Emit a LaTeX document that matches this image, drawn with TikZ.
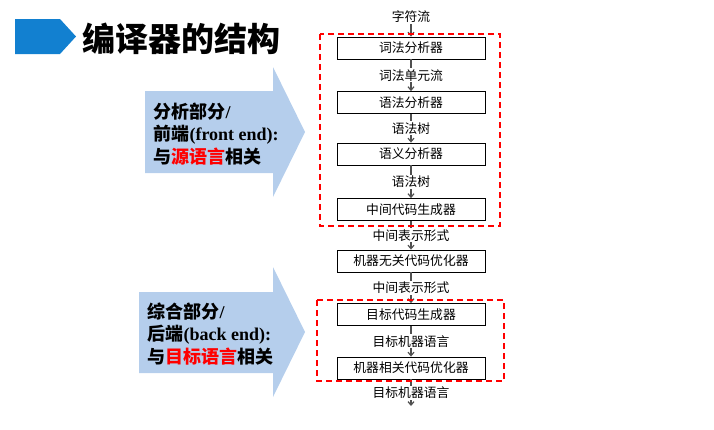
\documentclass[tikz,border=0pt]{standalone}
\usepackage{fontspec}
\setmainfont{Liberation Serif}
\newfontfamily\cjk{Noto Sans CJK SC}
\usetikzlibrary{arrows.meta}

\definecolor{titleblue}{RGB}{18,128,208}
\definecolor{arrowblue}{RGB}{181,206,236}
\definecolor{flowgray}{RGB}{80,80,80}

\tikzset{
stage/.style={draw=black, thick, fill=white, minimum width=148pt, minimum height=22pt,
  inner sep=0pt, font=\cjk\fontsize{12.8}{14}\selectfont},
flowlabel/.style={fill=white, inner sep=1pt, font=\cjk\fontsize{12.8}{14}\selectfont},
flow/.style={draw=flowgray, line width=1.2pt, -{Straight Barb[length=3.5pt,width=6pt]}},
partbox/.style={draw=red, line width=2pt, dash pattern=on 6pt off 4pt},
parttext/.style={align=left, anchor=west, font=\bfseries\fontsize{18}{22.5}\selectfont}
}

\begin{document}
\begin{tikzpicture}[x=1pt,y=-1pt]

\useasboundingbox (0,0) rectangle (714,429);

%%%%%%%%%%%%%%%%%%%%%%%%%%%%%%%%%%%%%%%%%%%%%%%%%%%%%%%%%%
% TITLE
%%%%%%%%%%%%%%%%%%%%%%%%%%%%%%%%%%%%%%%%%%%%%%%%%%%%%%%%%%

\fill[titleblue] (15,19) -- (60,19) -- (76,36.5) -- (60,54) -- (15,54) -- cycle;

\node[
anchor=west,
inner sep=0pt,
font=\cjk\bfseries\fontsize{33}{36}\selectfont
](title)
at (82,39)
{编译器的结构};

%%%%%%%%%%%%%%%%%%%%%%%%%%%%%%%%%%%%%%%%%%%%%%%%%%%%%%%%%%
% FRONT / BACK ARROWS
%%%%%%%%%%%%%%%%%%%%%%%%%%%%%%%%%%%%%%%%%%%%%%%%%%%%%%%%%%

\fill[arrowblue] (145,91) -- (273,91) -- (273,67) -- (305,132)
  -- (273,197) -- (273,173) -- (145,173) -- cycle;

\fill[arrowblue] (139,292) -- (273,292) -- (273,267) -- (305,332)
  -- (273,397) -- (273,373) -- (139,373) -- cycle;

\node[parttext](front) at (150,134)
{{\cjk 分析部分}/\\
{\cjk 前端}(front end):\\
{\cjk 与\textcolor{red}{源语言}相关}};

\node[parttext](back) at (144,334)
{{\cjk 综合部分}/\\
{\cjk 后端}(back end):\\
{\cjk 与\textcolor{red}{目标语言}相关}};

%%%%%%%%%%%%%%%%%%%%%%%%%%%%%%%%%%%%%%%%%%%%%%%%%%%%%%%%%%
% PHASES
%%%%%%%%%%%%%%%%%%%%%%%%%%%%%%%%%%%%%%%%%%%%%%%%%%%%%%%%%%

\node[flowlabel](input) at (411,17) {字符流};

\node[stage](lexer) at (411,48) {词法分析器};
\node[stage](parser) at (411,102.5) {语法分析器};
\node[stage](semantic) at (411,154) {语义分析器};
\node[stage](irgen) at (411,209.5) {中间代码生成器};
\node[stage](iropt) at (411,261) {机器无关代码优化器};
\node[stage](codegen) at (411,314.5) {目标代码生成器};
\node[stage](mopt) at (411,368) {机器相关代码优化器};

\coordinate (output) at (411,406);

%%%%%%%%%%%%%%%%%%%%%%%%%%%%%%%%%%%%%%%%%%%%%%%%%%%%%%%%%%
% CONNECTIONS
%%%%%%%%%%%%%%%%%%%%%%%%%%%%%%%%%%%%%%%%%%%%%%%%%%%%%%%%%%

\draw[flow] (input)--(lexer);
\draw[flow] (lexer)--(parser) node[flowlabel,midway]{词法单元流};
\draw[flow] (parser)--(semantic) node[flowlabel,midway]{语法树};
\draw[flow] (semantic)--(irgen) node[flowlabel,midway]{语法树};
\draw[flow] (irgen)--(iropt) node[flowlabel,midway]{中间表示形式};
\draw[flow] (iropt)--(codegen) node[flowlabel,midway]{中间表示形式};
\draw[flow] (codegen)--(mopt) node[flowlabel,midway]{目标机器语言};
\draw[flow] (mopt)--(output) node[flowlabel,midway]{目标机器语言};

%%%%%%%%%%%%%%%%%%%%%%%%%%%%%%%%%%%%%%%%%%%%%%%%%%%%%%%%%%
% FRONT / BACK GROUPS
%%%%%%%%%%%%%%%%%%%%%%%%%%%%%%%%%%%%%%%%%%%%%%%%%%%%%%%%%%

\draw[partbox] (320,34) rectangle (500,226);
\draw[partbox] (317,300) rectangle (504,381);

\end{tikzpicture}
\end{document}
